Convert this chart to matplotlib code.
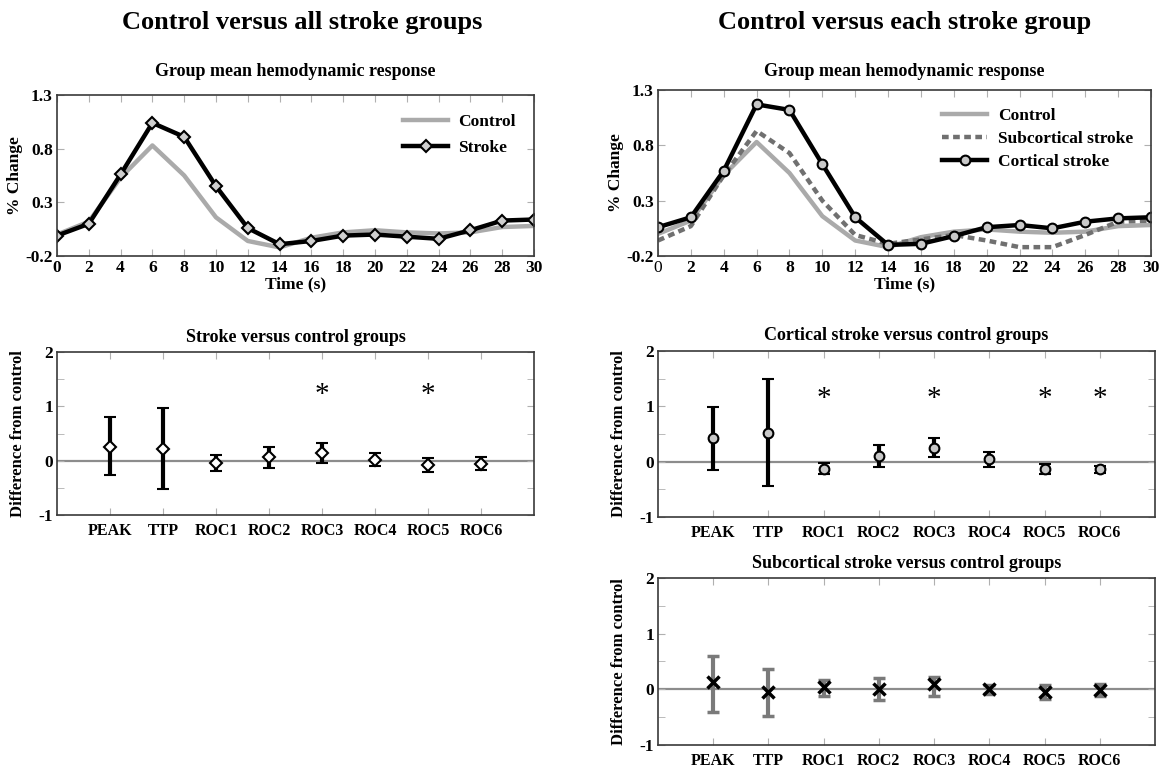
import matplotlib
matplotlib.use("Agg")
import matplotlib.pyplot as plt
import numpy as np

plt.rcParams['font.family'] = ['Liberation Serif', 'DejaVu Serif']
plt.rcParams['font.weight'] = 'bold'
plt.rcParams['axes.unicode_minus'] = False

# ---- hemodynamic response time courses (% change) ----
time_s = [0, 2, 4, 6, 8, 10, 12, 14, 16, 18, 20, 22, 24, 26, 28, 30]
control = [0.00, 0.12, 0.53, 0.83, 0.55, 0.16, -0.06, -0.12, -0.03, 0.02,
           0.04, 0.02, 0.01, 0.02, 0.07, 0.08]
stroke = [-0.01, 0.10, 0.56, 1.04, 0.91, 0.45, 0.06, -0.09, -0.06, -0.01,
          0.00, -0.02, -0.04, 0.04, 0.13, 0.14]
subcortical = [-0.06, 0.07, 0.53, 0.93, 0.73, 0.30, -0.01, -0.09, -0.05, -0.01,
               -0.06, -0.12, -0.12, -0.01, 0.11, 0.12]
cortical = [0.06, 0.15, 0.57, 1.17, 1.12, 0.63, 0.15, -0.10, -0.09, -0.02,
            0.06, 0.08, 0.05, 0.11, 0.14, 0.15]

# ---- group differences from control ----
measures = ["PEAK", "TTP", "ROC1", "ROC2", "ROC3", "ROC4", "ROC5", "ROC6"]

stroke_diff = [0.26, 0.22, -0.04, 0.07, 0.15, 0.02, -0.08, -0.06]
stroke_hi = [0.80, 0.97, 0.10, 0.25, 0.33, 0.15, 0.04, 0.06]
stroke_lo = [-0.27, -0.53, -0.19, -0.13, -0.05, -0.09, -0.21, -0.17]
stroke_sig = ["ROC3", "ROC5"]

cort_diff = [0.43, 0.52, -0.14, 0.10, 0.25, 0.04, -0.14, -0.14]
cort_hi = [0.99, 1.50, -0.03, 0.30, 0.42, 0.18, -0.04, -0.07]
cort_lo = [-0.15, -0.44, -0.23, -0.09, 0.08, -0.10, -0.23, -0.21]
cort_sig = ["ROC1", "ROC3", "ROC5", "ROC6"]

sub_diff = [0.14, -0.04, 0.05, 0.00, 0.09, 0.01, -0.04, -0.01]
sub_hi = [0.60, 0.36, 0.17, 0.21, 0.23, 0.07, 0.07, 0.09]
sub_lo = [-0.40, -0.48, -0.12, -0.19, -0.12, -0.08, -0.17, -0.12]

W, H = 1168, 767
fig = plt.figure(figsize=(W / 100, H / 100), dpi=100)

TICK_SIZE = 12.5
LABEL_SIZE = 12.5
SUBTITLE_SIZE = 13


def box(x0, y0, x1, y1):
    return [x0 / W, 1 - y1 / H, (x1 - x0) / W, (y1 - y0) / H]


def style_axes(ax):
    for s in ax.spines.values():
        s.set_color('#3a3a3a')
        s.set_linewidth(1.2)
    ax.tick_params(which='both', direction='in', top=True, right=True,
                   length=5, color='#b0b0b0', labelsize=TICK_SIZE, pad=3)
    for lab in ax.get_xticklabels() + ax.get_yticklabels():
        lab.set_fontweight('bold')


def response_axes(rect, title_y):
    ax = fig.add_axes(box(*rect))
    ax.set_xlim(0, 30)
    ax.set_ylim(-0.2, 1.3)
    ax.set_xticks(time_s)
    ax.set_yticks([-0.2, 0.3, 0.8, 1.3])
    ax.set_yticklabels(['-0.2', '0.3', '0.8', '1.3'])
    style_axes(ax)
    ax.tick_params(axis='x', pad=3)
    ax.set_xlabel('Time (s)', fontsize=LABEL_SIZE, fontweight='bold', labelpad=0)
    ax.set_ylabel('% Change', fontsize=LABEL_SIZE, fontweight='bold', labelpad=2)
    cx = (rect[0] + rect[2]) / 2
    fig.text(cx / W, 1 - title_y / H, 'Group mean hemodynamic response',
             ha='center', va='center', fontsize=SUBTITLE_SIZE, fontweight='bold')
    return ax


def diff_axes(rect, title, title_y):
    ax = fig.add_axes(box(*rect))
    ax.set_xlim(0, 9)
    ax.set_ylim(-1, 2)
    xs = np.arange(1, len(measures) + 1)
    ax.set_xticks(xs)
    ax.set_xticklabels(measures)
    ax.set_yticks([-1, 0, 1, 2])
    ax.set_yticks([-0.5, 0.5, 1.5], minor=True)
    ax.axhline(0, color='#8c8c8c', lw=1.6, zorder=1)
    style_axes(ax)
    ax.tick_params(axis='x', pad=6, labelsize=11.5)
    ax.set_ylabel('Difference from control', fontsize=12,
                  fontweight='bold', labelpad=9)
    cx = (rect[0] + rect[2]) / 2
    fig.text(cx / W, 1 - title_y / H, title, ha='center', va='center',
             fontsize=SUBTITLE_SIZE, fontweight='bold')
    return ax, xs


# ---- top-left: control vs stroke ----
ax = response_axes((57, 95, 534, 256), 72)
ax.plot(time_s, control, color='#aaaaaa', lw=3.2, label='Control')
ax.plot(time_s, stroke, color='black', lw=3.2, marker='D', ms=6.5,
        mfc='#cfcfcf', mec='black', mew=1.5, label='Stroke')
ax.legend(loc='upper right', bbox_to_anchor=(0.995, 0.98), frameon=False,
          prop={'weight': 'bold', 'size': LABEL_SIZE}, handlelength=2.6,
          labelspacing=0.55, handletextpad=0.6)

# ---- top-right: control vs each stroke group ----
ax = response_axes((658, 90, 1151, 256), 72)
ax.plot(time_s, control, color='#aaaaaa', lw=3.2, label='Control')
ax.plot(time_s, subcortical, color='#707070', lw=3.2, ls=(0, (1.5, 1)),
        label='Subcortical stroke')
ax.plot(time_s, cortical, color='black', lw=3.2, marker='o', ms=7,
        mfc='#c8c8c8', mec='black', mew=1.5, label='Cortical stroke')
ax.legend(loc='upper right', bbox_to_anchor=(0.995, 0.985), frameon=False,
          prop={'weight': 'bold', 'size': LABEL_SIZE}, handlelength=2.6,
          labelspacing=0.4, handletextpad=0.6)
ax.get_xticklabels()[0].set_fontweight('normal')

# ---- middle-left: stroke vs control ----
ax, xs = diff_axes((57, 352, 534, 515), 'Stroke versus control groups', 337)
d = np.array(stroke_diff)
ax.errorbar(xs, d, yerr=[d - np.array(stroke_lo), np.array(stroke_hi) - d],
            fmt='D', color='black', ecolor='black', elinewidth=3, capsize=4.5,
            capthick=3, ms=6.5, mfc='white', mec='black', mew=1.5, zorder=3)
for m in stroke_sig:
    ax.text(measures.index(m) + 1, 1.2, '*', ha='center', va='center',
            fontsize=21, fontweight='normal')

# ---- middle-right: cortical stroke vs control ----
ax, xs = diff_axes((658, 351, 1155, 517),
                   'Cortical stroke versus control groups', 336)
d = np.array(cort_diff)
ax.errorbar(xs, d, yerr=[d - np.array(cort_lo), np.array(cort_hi) - d],
            fmt='o', color='black', ecolor='black', elinewidth=3, capsize=4.5,
            capthick=3, ms=7, mfc='#c8c8c8', mec='black', mew=1.5, zorder=3)
for m in cort_sig:
    ax.text(measures.index(m) + 1, 1.13, '*', ha='center', va='center',
            fontsize=21, fontweight='normal')

# ---- bottom-right: subcortical stroke vs control ----
ax, xs = diff_axes((658, 578, 1155, 745),
                   'Subcortical stroke versus control groups', 563)
d = np.array(sub_diff)
ax.errorbar(xs, d, yerr=[d - np.array(sub_lo), np.array(sub_hi) - d],
            fmt='x', color='black', ecolor='#7a7a7a', elinewidth=3, capsize=4.5,
            capthick=3, ms=8, mec='black', mew=2.5, zorder=3)

# ---- column headings ----
fig.text(302 / W, 1 - 22 / H, 'Control versus all stroke groups',
         ha='center', va='center', fontsize=19, fontweight='bold')
fig.text(905 / W, 1 - 22 / H, 'Control versus each stroke group',
         ha='center', va='center', fontsize=19, fontweight='bold')

fig.savefig('out.png', dpi=100)
